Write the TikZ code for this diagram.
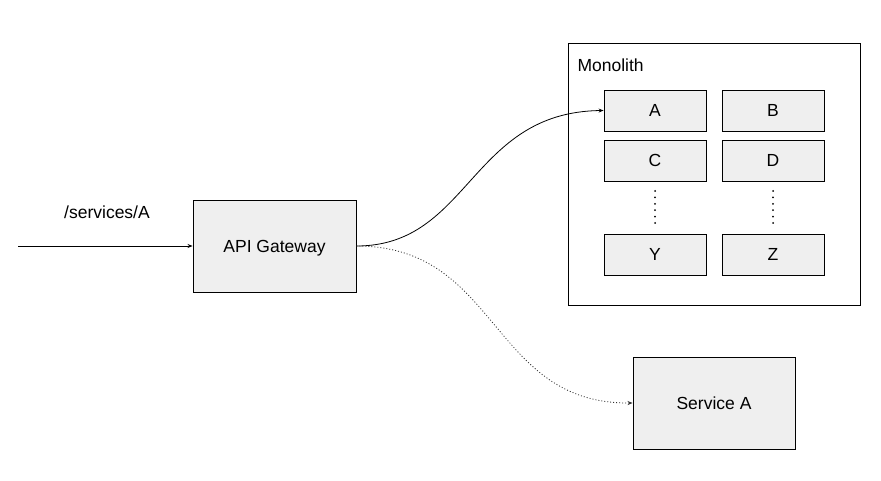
\documentclass[tikz,border=0pt]{standalone}
\usepackage{fontspec}
\setmainfont{Liberation Sans}
\usetikzlibrary{arrows.meta}
\definecolor{boxgray}{HTML}{EFEFEF}
\begin{document}
\begin{tikzpicture}[x=1pt,y=-1pt,
  txt/.style={font=\fontsize{17.5}{20}\selectfont},
  box/.style={txt,draw=black,fill=boxgray,line width=0.9pt,inner sep=0pt,text height=12.5pt,text depth=0pt},
  conn/.style={line width=0.8pt,-{Stealth[length=5pt,width=4pt]}},
  dotline/.style={conn,dash pattern=on 1pt off 2pt,draw=black!80}]
\useasboundingbox (0,0) rectangle (881,481);
\node[draw=black,line width=0.9pt,minimum width=292pt,minimum height=262pt,inner sep=0pt] (mono) at (714,174) {};
\node[txt,anchor=west] (monol) at (574,65) {Monolith};
\node[box,minimum width=163pt,minimum height=92pt] (gw) at (274.5,246) {API Gateway};
\node[box,minimum width=102pt,minimum height=41pt] (a) at (655,110.5) {A};
\node[box,minimum width=102pt,minimum height=41pt] (b) at (773,110.5) {B};
\node[box,minimum width=102pt,minimum height=41pt] (c) at (655,160.5) {C};
\node[box,minimum width=102pt,minimum height=41pt] (d) at (773,160.5) {D};
\node[box,minimum width=102pt,minimum height=41pt] (y) at (655,254.5) {Y};
\node[box,minimum width=102pt,minimum height=41pt] (z) at (773,254.5) {Z};
\node[box,minimum width=162pt,minimum height=92pt] (sa) at (714,403) {Service A};
\foreach \i in {0,...,5}{
  \fill (655,191+\i*6.4) circle (1pt);
  \fill (773,191+\i*6.4) circle (1pt);
}
\coordinate (in) at (18,246);
\node[txt] (lbl) at (107,212) {/services/A};
\draw[conn] (in) -- (gw.west);
\draw[conn] (gw.east) .. controls (470,246) and (470,112) .. (a.west);
\draw[dotline] (gw.east) .. controls (500,246) and (490,404) .. (sa.west);
\end{tikzpicture}
\end{document}
